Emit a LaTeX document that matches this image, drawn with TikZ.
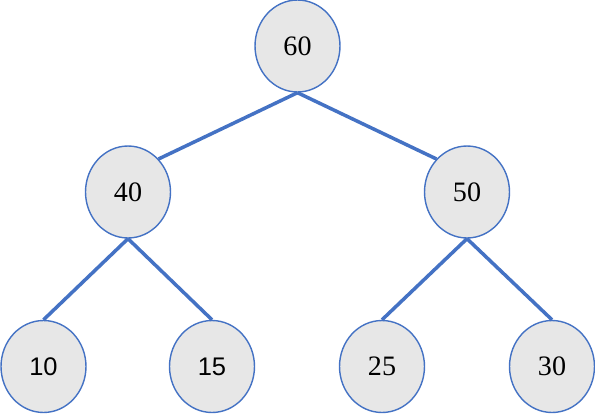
\documentclass[tikz,border=0pt]{standalone}
\usepackage{fontspec}
\setmainfont{Liberation Serif}
\newfontfamily\sansnum{Liberation Sans}
\usetikzlibrary{shapes.geometric}
\definecolor{nodoazul}{HTML}{4472C4}
\definecolor{nodogris}{HTML}{E7E7E7}

\begin{document}
\begin{tikzpicture}[x=0.02cm, y=-0.02cm,
  nodo/.style={ellipse, draw=nodoazul, fill=nodogris, line width=0.8pt,
    minimum width=1.7cm, minimum height=1.84cm, inner sep=0pt,
    font=\fontsize{16}{18}\selectfont},
  hoja/.style={nodo, font=\fontsize{14.5}{17}\selectfont\sansnum},
  arista/.style={draw=nodoazul, line width=2pt}]
  \useasboundingbox (0,0) rectangle (595,413);
  % raiz
  \node[nodo] (n60) at (297.5,46) {60};
  % nivel 1
  \node[nodo] (n40) at (128,192) {40};
  \node[nodo] (n50) at (467,192) {50};
  % hojas
  \node[hoja] (n10) at (43.5,366.5) {10};
  \node[hoja] (n15) at (212,366.5) {15};
  \node[nodo] (n25) at (382,366.5) {25};
  \node[nodo] (n30) at (552,366.5) {30};
  % aristas
  \draw[arista] (n60.south) -- (n40.north east);
  \draw[arista] (n60.south) -- (n50.north west);
  \draw[arista] (n40.south) -- (n10.north);
  \draw[arista] (n40.south) -- (n15.north);
  \draw[arista] (n50.south) -- (n25.north);
  \draw[arista] (n50.south) -- (n30.north);
\end{tikzpicture}
\end{document}
